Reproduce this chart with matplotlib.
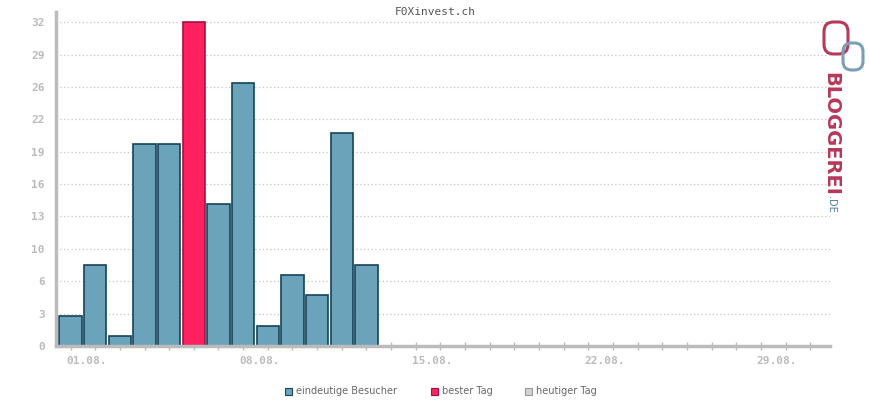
import matplotlib
matplotlib.use('Agg')
from matplotlib import pyplot as plt
from matplotlib.patches import Rectangle, FancyBboxPatch
import numpy as np

# visitors per day, August
days = [1, 2, 3, 4, 5, 6, 7, 8, 9, 10, 11, 12, 13]
visitors = [3, 8, 1, 20, 20, 32, 14, 26, 2, 7, 5, 21, 8]
best_day = 6
tick_days = [1, 8, 15, 22, 29]
tick_labels = ['01.08.', '08.08.', '15.08.', '22.08.', '29.08.']
y_ticks = [0, 3.2, 6.4, 9.6, 12.8, 16, 19.2, 22.4, 25.6, 28.8, 32]
y_labels = ['0', '3', '6', '10', '13', '16', '19', '22', '26', '29', '32']
legend_labels = ['eindeutige Besucher', 'bester Tag', 'heutiger Tag']

blue, blue_edge = '#6ba3bb', '#15445a'
red, red_edge = '#ff2060', '#a8103c'
grey = '#bbbbbb'

fig = plt.figure(figsize=(8.7, 4), dpi=100)
ax = fig.add_axes([56 / 870, 54 / 400, 774 / 870, 334 / 400])

colors = [red if d == best_day else blue for d in days]
edges = [red_edge if d == best_day else blue_edge for d in days]
ax.bar(days, visitors, width=0.9, color=colors, edgecolor=edges, linewidth=1.2, zorder=2)

ax.set_xlim(0.41, 31.8)
ax.set_ylim(0, 33)
ax.set_yticks(y_ticks)
ax.set_yticklabels(y_labels)
ax.set_xticks(range(1, 32))
ax.set_xticklabels([])
# labels sit a bit right of their tick
ax.set_xticks([d + 0.65 for d in tick_days], minor=True)
ax.set_xticklabels(tick_labels, minor=True)

for lab in ax.get_xticklabels(minor=True) + ax.get_yticklabels():
    lab.set_family('DejaVu Sans Mono')
    lab.set_fontweight('bold')
    lab.set_fontsize(8)
    lab.set_color(grey)

ax.tick_params(axis='y', length=0, pad=8)
ax.tick_params(axis='x', which='major', direction='inout', length=6, width=1, color=grey)
ax.tick_params(axis='x', which='minor', length=0, pad=7)
ax.grid(axis='y', linestyle=(0, (1, 2)), color='#c4c4c4', linewidth=0.9, zorder=0)

for s in ['top', 'right']:
    ax.spines[s].set_visible(False)
ax.spines['left'].set_color(grey)
ax.spines['left'].set_linewidth(2.5)
ax.spines['bottom'].set_color(grey)
ax.spines['bottom'].set_linewidth(2.5)
ax.spines['bottom'].set_zorder(3)

fig.text(0.5, 1 - 12 / 400, 'F0Xinvest.ch', ha='center', va='center',
         family='DejaVu Sans Mono', fontsize=8, color='#555555')

# legend
leg_x = [285, 431, 525]
leg_fc = [blue, red, '#d4d4d4']
leg_ec = [blue_edge, red_edge, '#999999']
for x, fc, ec, label in zip(leg_x, leg_fc, leg_ec, legend_labels):
    fig.patches.append(Rectangle((x / 870, 1 - 395 / 400), 7 / 870, 7 / 400,
                                 transform=fig.transFigure, facecolor=fc, edgecolor=ec, linewidth=0.8))
    fig.text((x + 11) / 870, 1 - 391 / 400, label, va='center', fontsize=7, color='#666666')

# bloggerei logo
asp = 870 / 400
fig.patches.append(FancyBboxPatch((824 / 870, 1 - 54 / 400), 24 / 870, 32 / 400,
                                  boxstyle='round,pad=0,rounding_size=0.011', mutation_aspect=asp,
                                  transform=fig.transFigure,
                                  facecolor='none', edgecolor='#b8385a', linewidth=2.2))
fig.patches.append(FancyBboxPatch((843 / 870, 1 - 70 / 400), 20 / 870, 27 / 400,
                                  boxstyle='round,pad=0,rounding_size=0.01', mutation_aspect=asp,
                                  transform=fig.transFigure,
                                  facecolor='none', edgecolor='#7a9fb4', linewidth=2.2))
fig.text(831 / 870, 1 - 72 / 400, 'BLOGGEREI', rotation=270, ha='center', va='top',
         fontsize=14, fontweight='bold', color='#b8385a', family='DejaVu Sans')
fig.text(831 / 870, 1 - 196 / 400, '.DE', rotation=270, ha='center', va='top',
         fontsize=7, color='#4d7fa0', family='DejaVu Sans')

plt.savefig('out.png', dpi=100)
